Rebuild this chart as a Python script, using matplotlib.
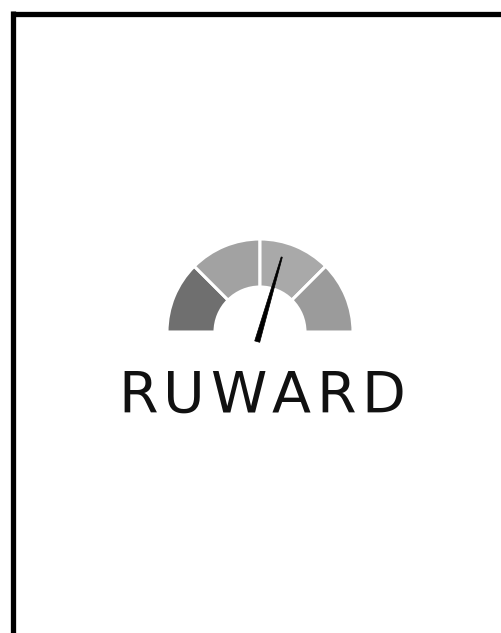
import numpy as np
import matplotlib.pyplot as plt
from matplotlib.patches import Wedge, Polygon

# gauge data: four equal bands, read left to right
band_spans = [45, 45, 45, 45]          # degrees of each band
band_colors = ['#6f6f6f', '#a2a2a2', '#a9a9a9', '#9b9b9b']
needle_value = 0.59                    # fraction of the dial, 0 = left, 1 = right
brand = "RUWARD"

W, H = 502, 633
fig = plt.figure(figsize=(W / 100, H / 100), dpi=100)
ax = fig.add_axes([0, 0, 1, 1])
ax.set_xlim(0, W)
ax.set_ylim(H, 0)
ax.axis('off')

# frame (only top and left edges are visible in the crop)
ax.plot([13.5, 13.5], [11, H + 5], color='black', lw=3.8, solid_capstyle='butt')
ax.plot([11, W + 5], [13.5, 13.5], color='black', lw=3.8, solid_capstyle='butt')

# gauge bands
cx, cy = 260, 332
r_out, r_in = 93, 45
start = 180
for span, color in zip(band_spans, band_colors):
    # y axis is inverted, so angles are mirrored
    w = Wedge((cx, cy), r_out, 360 - start, 360 - start + span,
              width=r_out - r_in, facecolor=color, edgecolor='white', lw=2.2)
    ax.add_patch(w)
    start -= span

# needle
ang = np.radians(180 - 180 * needle_value)
d = np.array([np.cos(ang), -np.sin(ang)])
n = np.array([-d[1], d[0]])
c = np.array([cx, cy])
tip = c + d * 78
base = c - d * 10
needle = Polygon([base + n * 2.6, tip + n * 0.6, tip - n * 0.6, base - n * 2.6],
                 closed=True, facecolor='black', edgecolor='black', lw=0.5)
ax.add_patch(needle)

# wordmark: letters spaced out to the wide geometric look of the original
x_left, x_right, baseline = 118, 405, 413
renderer = fig.canvas.get_renderer()
letters = [ax.text(0, baseline, ch, ha='left', va='baseline', fontsize=41,
                   family='DejaVu Sans', color='#111111') for ch in brand]
widths = [t.get_window_extent(renderer).width for t in letters]
gap = (x_right - x_left - sum(widths)) / (len(brand) - 1)
x = x_left
for t, w in zip(letters, widths):
    t.set_x(x)
    x += w + gap

fig.savefig('out.png', dpi=100, facecolor='white')
